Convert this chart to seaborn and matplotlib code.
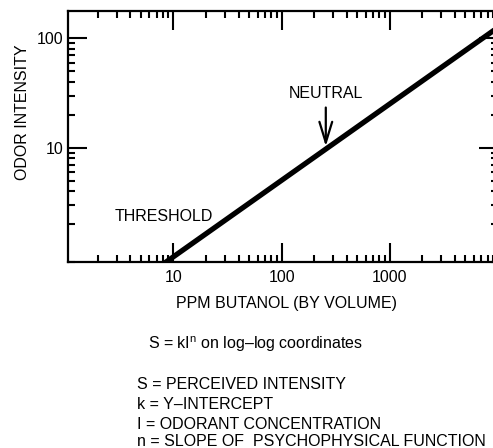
import matplotlib
matplotlib.use("Agg")
import matplotlib.pyplot as plt
import seaborn as sns
import numpy as np
from matplotlib.ticker import FixedLocator, LogLocator, NullFormatter, FixedFormatter

sns.set_style("ticks")
plt.rcParams['font.family'] = ['Liberation Sans', 'DejaVu Sans']
plt.rcParams['mathtext.fontset'] = 'custom'
plt.rcParams['mathtext.rm'] = 'Liberation Sans'
plt.rcParams['mathtext.it'] = 'Liberation Sans'
plt.rcParams['text.color'] = 'black'
plt.rcParams['axes.labelcolor'] = 'black'
plt.rcParams['xtick.color'] = 'black'
plt.rcParams['ytick.color'] = 'black'
plt.rcParams['xtick.labelcolor'] = 'black'
plt.rcParams['ytick.labelcolor'] = 'black'

# Data
ppm = [8, 10000]
intensity = [0.86, 126]
x_ticks = [10, 100, 1000]
x_labels = ["10", "100", "1000"]
y_ticks = [10, 100]
y_labels = ["10", "100"]
neutral_ppm = 256
neutral_intensity = 9.7

FS = 11.5
W, H = 493, 448
fig = plt.figure(figsize=(W / 100, H / 100), dpi=100)
L, R, T, B = 68, 498, 11, 262
ax = fig.add_axes([L / W, 1 - B / H, (R - L) / W, (B - T) / H])

sns.lineplot(x=ppm, y=intensity, ax=ax, color='black', linewidth=3.8)
ax.set_xscale('log')
ax.set_yscale('log')
ax.set_xlim(1.06, 10000)
ax.set_ylim(0.9, 178)

ax.xaxis.set_major_locator(FixedLocator(x_ticks))
ax.xaxis.set_major_formatter(FixedFormatter(x_labels))
ax.yaxis.set_major_locator(FixedLocator(y_ticks))
ax.yaxis.set_major_formatter(FixedFormatter(y_labels))
ax.xaxis.set_minor_locator(LogLocator(base=10, subs=np.arange(2, 10)))
ax.yaxis.set_minor_locator(LogLocator(base=10, subs=np.arange(2, 10)))
ax.xaxis.set_minor_formatter(NullFormatter())
ax.yaxis.set_minor_formatter(NullFormatter())

for s in ax.spines.values():
    s.set_linewidth(1.6)
    s.set_color('black')
ax.tick_params(which='both', direction='in', top=True, right=True, color='black', width=1.5)
ax.tick_params(which='major', length=13.5, labelsize=FS, labelcolor='black')
ax.tick_params(which='minor', length=5)
ax.tick_params(axis='x', which='major', pad=6)
ax.tick_params(axis='y', which='major', pad=3)

ax.set_xlabel("PPM BUTANOL (BY VOLUME)", fontsize=FS, color='black')
ax.xaxis.label.set_va('center')
ax.xaxis.set_label_coords((286 - L) / (R - L), (B - 303) / (B - T))
ax.set_ylabel("ODOR INTENSITY", fontsize=FS, color='black')
ax.yaxis.label.set_va('center')
ax.yaxis.set_label_coords((22 - L) / (R - L), (B - 112) / (B - T))

ax.text(2.88, 2.33, "THRESHOLD", fontsize=FS, ha='left', va='center', color='black')
ax.annotate("NEUTRAL", xy=(neutral_ppm, neutral_intensity), xytext=(neutral_ppm, 31),
            fontsize=FS, ha='center', va='center', color='black',
            arrowprops=dict(arrowstyle='->, head_length=1.3, head_width=0.4', lw=1.6,
                            color='black', shrinkA=2, shrinkB=2))

fig.text(148 / W, 1 - 342 / H, r"S = kI$^{\mathrm{n}}$ on log–log coordinates", fontsize=FS,
         ha='left', va='center_baseline', color='black')
lines = ["S = PERCEIVED INTENSITY", "k = Y–INTERCEPT", "I = ODORANT CONCENTRATION",
         "n = SLOPE OF  PSYCHOPHYSICAL FUNCTION"]
for txt, yy in zip(lines, [383, 403, 423, 440]):
    fig.text(137 / W, 1 - yy / H, txt, fontsize=FS, ha='left', va='center_baseline',
             color='black')

fig.savefig("out.png", dpi=100)
